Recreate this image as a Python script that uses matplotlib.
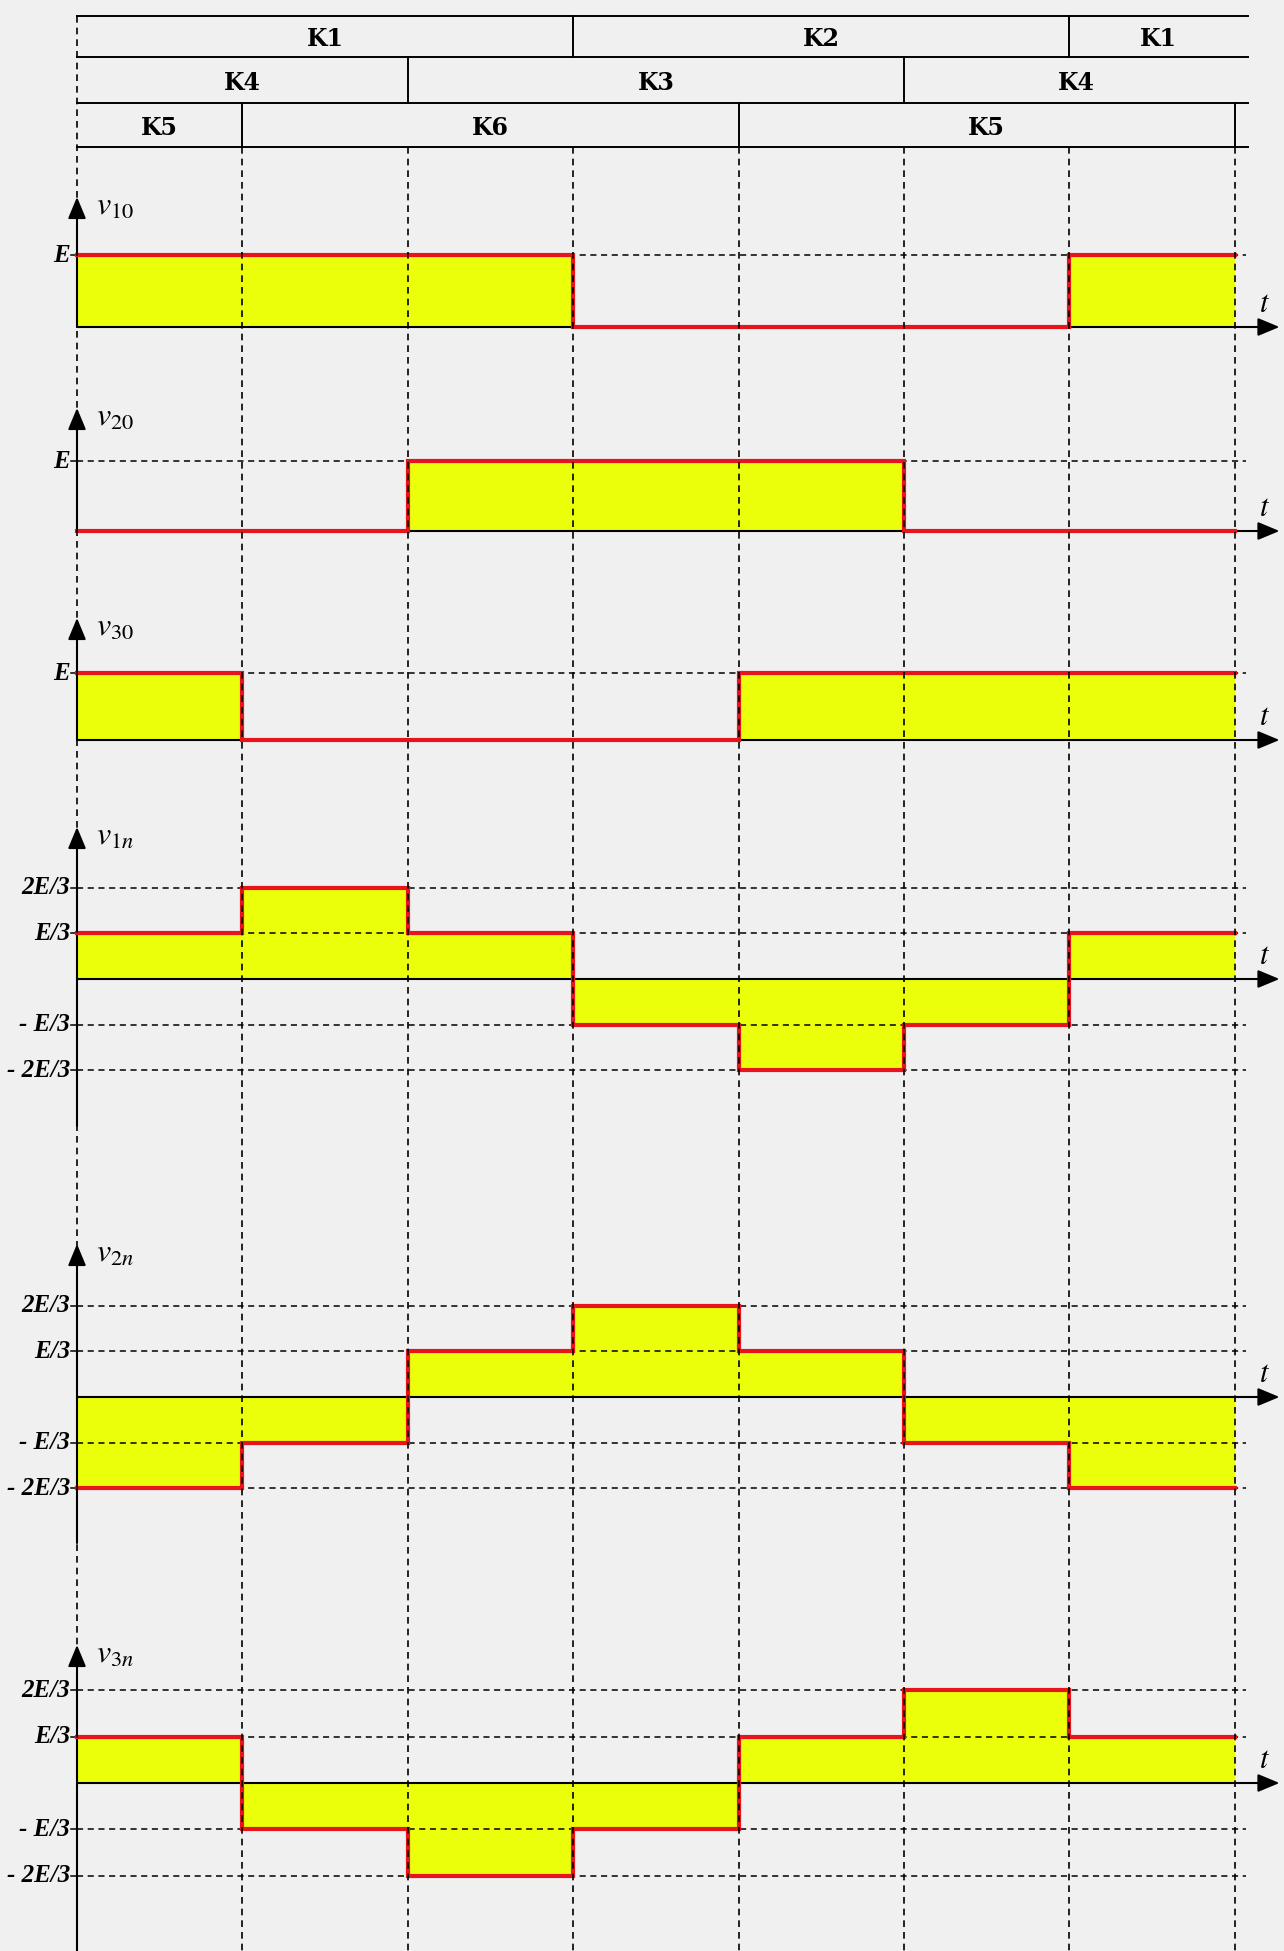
import numpy as np
import matplotlib
matplotlib.use('Agg')
import matplotlib.pyplot as plt

plt.rcParams['mathtext.fontset'] = 'stix'

W, H = 1284, 1951

# time axis in units of pi/3 (seven intervals shown)
t_edges = np.arange(8)

v10 = [1, 1, 1, 0, 0, 0, 1]
v20 = [0, 0, 1, 1, 1, 0, 0]
v30 = [1, 0, 0, 0, 1, 1, 1]
v1n = [1/3, 2/3, 1/3, -1/3, -2/3, -1/3, 1/3]
v2n = [-2/3, -1/3, 1/3, 2/3, 1/3, -1/3, -2/3]
v3n = [1/3, -1/3, -2/3, -1/3, 1/3, 2/3, 1/3]

names = ['10', '20', '30', '1n', '2n', '3n']
series = [v10, v20, v30, v1n, v2n, v3n]

uni_levels = [1]
uni_labels = ['E']
bi_levels = [2/3, 1/3, -1/3, -2/3]
bi_labels = ['2E/3', 'E/3', '- E/3', '- 2E/3']

row1 = ['K1', 'K2', 'K1']
row1_edges = [0, 3, 6, 7.08]
row2 = ['K4', 'K3', 'K4']
row2_edges = [0, 2, 5, 7.08]
row3 = ['K5', 'K6', 'K5']
row3_edges = [0, 1, 4, 7]

# page layout (pixels from top)
X0, DX = 77, 165.4
XLIM = (-X0 / DX, (W - X0) / DX)
table_y = [16, 57, 103, 147]
# zero line, pixels per E, arrow tip, bottom of y axis
panels = [
    (327, 72, 197, None),
    (531, 70, 408, None),
    (740, 67, 618, None),
    (979, 137, 827, 1126),
    (1397, 137, 1244, 1543),
    (1783, 139, 1645, 1951),
]

YELLOW = '#ecff0a'
RED = '#e8141c'
DASH = (0, (4, 3))
serif = 'DejaVu Serif'

fig = plt.figure(figsize=(W / 100, H / 100), dpi=100)
fig.patch.set_facecolor('#f0f0f0')


def arrow(ax, start, end):
    ax.annotate('', xy=end, xytext=start,
                arrowprops=dict(arrowstyle='-|>,head_length=0.6,head_width=0.25',
                                lw=1.5, color='k', mutation_scale=22,
                                shrinkA=0, shrinkB=0))


for vals, name, (zero, unit, top, bottom) in zip(series, names, panels):
    ax = fig.add_axes([0, 0, 1, 1])
    ax.set_xlim(XLIM)
    ax.set_ylim((zero - H) / unit, zero / unit)
    ax.axis('off')
    ax.patch.set_alpha(0)

    y = np.append(vals, vals[-1])
    ax.fill_between(t_edges, 0, y, step='post', color=YELLOW, lw=0, zorder=1)

    bipolar = min(vals) < 0
    levels = bi_levels if bipolar else uni_levels
    labels = bi_labels if bipolar else uni_labels
    for lvl, lab in zip(levels, labels):
        ax.plot([0, 7.07], [lvl, lvl], color='k', lw=1.1, ls=DASH, zorder=2)
        ax.plot([-0.035, 0], [lvl, lvl], color='k', lw=1.1, zorder=2)
        ax.annotate(lab, xy=(0, lvl), xytext=(-5, 0), textcoords='offset points',
                    ha='right', va='center', fontsize=18, style='italic',
                    fontweight='bold', family='Liberation Serif')

    y_top = (zero - top) / unit
    y_bot = (zero - bottom) / unit if bottom else 0
    arrow(ax, (0, y_bot), (0, y_top))
    arrow(ax, (0, 0), (7.27, 0))
    ax.annotate('$v_{%s}$' % name, xy=(0, y_top), xytext=(14, -7),
                textcoords='offset points', ha='left', va='center', fontsize=23)
    ax.annotate('$t$', xy=(7.18, 0), xytext=(0, 17), textcoords='offset points',
                ha='center', va='center', fontsize=22)

    ax.step(t_edges, y, where='post', color=RED, lw=3, zorder=4,
            solid_joinstyle='miter')

# switch table and time grid on top
bg = fig.add_axes([0, 0, 1, 1], zorder=5)
bg.set_xlim(XLIM)
bg.set_ylim(H, 0)
bg.axis('off')
bg.patch.set_alpha(0)

for yy in table_y:
    bg.plot([0, 7.08], [yy, yy], color='k', lw=1.4)

rows = [(row1, row1_edges), (row2, row2_edges), (row3, row3_edges)]
for i, (labs, edges) in enumerate(rows):
    y_hi, y_lo = table_y[i], table_y[i + 1]
    for e in edges[1:]:
        if e <= 7:
            bg.plot([e, e], [y_hi, y_lo], color='k', lw=1.4)
    for lab, a, b in zip(labs, edges[:-1], edges[1:]):
        bg.text((a + b) / 2, (y_hi + y_lo) / 2 + 3, lab, ha='center', va='center',
                fontsize=17, fontweight='bold', family=serif)

bg.plot([0, 0], [table_y[0], H], color='k', lw=1.2, ls=DASH)
for t in t_edges[1:]:
    bg.plot([t, t], [table_y[-1], H], color='k', lw=1.2, ls=DASH)

fig.savefig('out.png', dpi=100, facecolor=fig.get_facecolor())
